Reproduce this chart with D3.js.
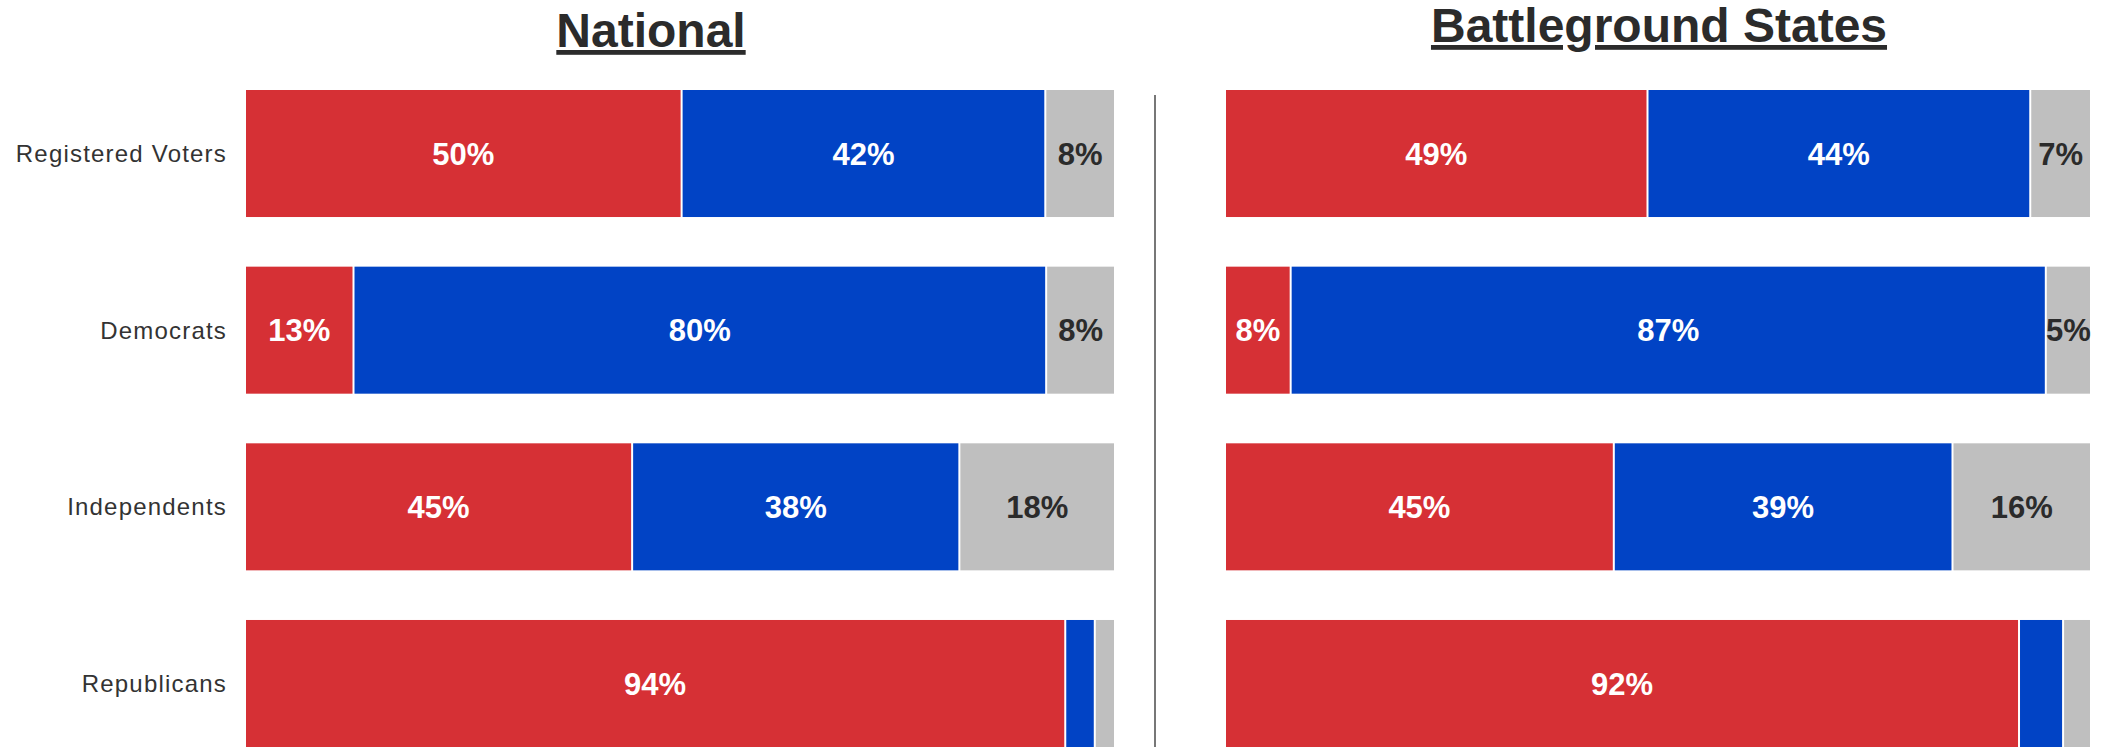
<!DOCTYPE html>
<html>
<head>
<meta charset="utf-8">
<script src="https://cdn.jsdelivr.net/npm/d3@7"></script>
<style>
  body { margin: 0; background: #fff; }
  text { font-family: "Liberation Sans", Arial, sans-serif; }
</style>
</head>
<body>
<div id="chart"></div>
<script>
// groups (rows)
var groups = ["Registered Voters", "Democrats", "Independents", "Republicans"];
var keys = ["rep", "dem", "other"];

// National shares
var natRep   = [50.3, 12.5, 44.6, 94.5];
var natDem   = [41.9, 79.8, 37.7, 3.4];
var natOther = [7.8, 7.7, 17.7, 2.1];
var natRepLbl   = ["50%", "13%", "45%", "94%"];
var natDemLbl   = ["42%", "80%", "38%", ""];
var natOtherLbl = ["8%", "8%", "18%", ""];

// Battleground states shares
var bgRep   = [48.9, 7.6, 45.0, 91.9];
var bgDem   = [44.3, 87.4, 39.2, 5.1];
var bgOther = [6.8, 5.0, 15.8, 3.0];
var bgRepLbl   = ["49%", "8%", "45%", "92%"];
var bgDemLbl   = ["44%", "87%", "39%", ""];
var bgOtherLbl = ["7%", "5%", "16%", ""];

var W = 2113, H = 747;
var colors = {rep: "#d63035", dem: "#0143c5", other: "#bfbfbf"};
var textColors = {rep: "#fff", dem: "#fff", other: "#2b2b2b"};

var svg = d3.select("#chart").append("svg")
    .attr("width", W)
    .attr("height", H);

var y = d3.scaleBand()
    .domain(groups)
    .range([90, 747])
    .paddingInner(0.281)
    .paddingOuter(0);

function buildRows(rep, dem, other, repL, demL, otherL) {
  return groups.map(function(g, i) {
    return {group: g, rep: rep[i], dem: dem[i], other: other[i],
            lbl: {rep: repL[i], dem: demL[i], other: otherL[i]}};
  });
}

var panels = [
  {title: "National", range: [246, 1114], titleX: 651, titleY: 47,
   rows: buildRows(natRep, natDem, natOther, natRepLbl, natDemLbl, natOtherLbl)},
  {title: "Battleground States", range: [1226, 2090], titleX: 1659, titleY: 42,
   rows: buildRows(bgRep, bgDem, bgOther, bgRepLbl, bgDemLbl, bgOtherLbl)}
];

var stack = d3.stack().keys(keys);

panels.forEach(function(p) {
  var x = d3.scaleLinear().domain([0, 100]).range(p.range);
  var series = stack(p.rows);
  var g = svg.append("g");

  // title
  g.append("text")
    .attr("x", p.titleX)
    .attr("y", p.titleY)
    .attr("text-anchor", "middle")
    .style("font-size", "48px")
    .style("font-weight", "bold")
    .style("text-decoration", "underline")
    .style("fill", "#2b2b2b")
    .text(p.title);

  series.forEach(function(s, si) {
    var last = si === series.length - 1;
    var layer = g.append("g");

    layer.selectAll("rect")
      .data(s)
      .enter().append("rect")
        .attr("x", function(d){ return x(d[0]); })
        .attr("y", function(d){ return y(d.data.group); })
        .attr("width", function(d){ return Math.max(0, x(d[1]) - x(d[0]) - (last ? 0 : 2)); })
        .attr("height", y.bandwidth())
        .attr("fill", colors[s.key]);

    layer.selectAll("text")
      .data(s)
      .enter().append("text")
        .attr("x", function(d){ return (x(d[0]) + x(d[1]) - (last ? 0 : 2)) / 2; })
        .attr("y", function(d){ return y(d.data.group) + y.bandwidth() / 2; })
        .attr("dy", "0.36em")
        .attr("text-anchor", "middle")
        .style("font-size", "31px")
        .style("font-weight", "bold")
        .style("fill", textColors[s.key])
        .text(function(d){ return d.data.lbl[s.key]; });
  });
});

// row labels on the left
svg.append("g").selectAll("text")
  .data(groups)
  .enter().append("text")
    .attr("x", 227)
    .attr("y", function(d){ return y(d) + y.bandwidth() / 2; })
    .attr("dy", "0.35em")
    .attr("text-anchor", "end")
    .style("font-size", "24px")
    .style("letter-spacing", "1.2px")
    .style("fill", "#333")
    .text(function(d){ return d; });

// divider between the panels
svg.append("line")
  .attr("x1", 1155).attr("x2", 1155)
  .attr("y1", 95).attr("y2", H)
  .attr("stroke", "#777")
  .attr("stroke-width", 2);
</script>
</body>
</html>
